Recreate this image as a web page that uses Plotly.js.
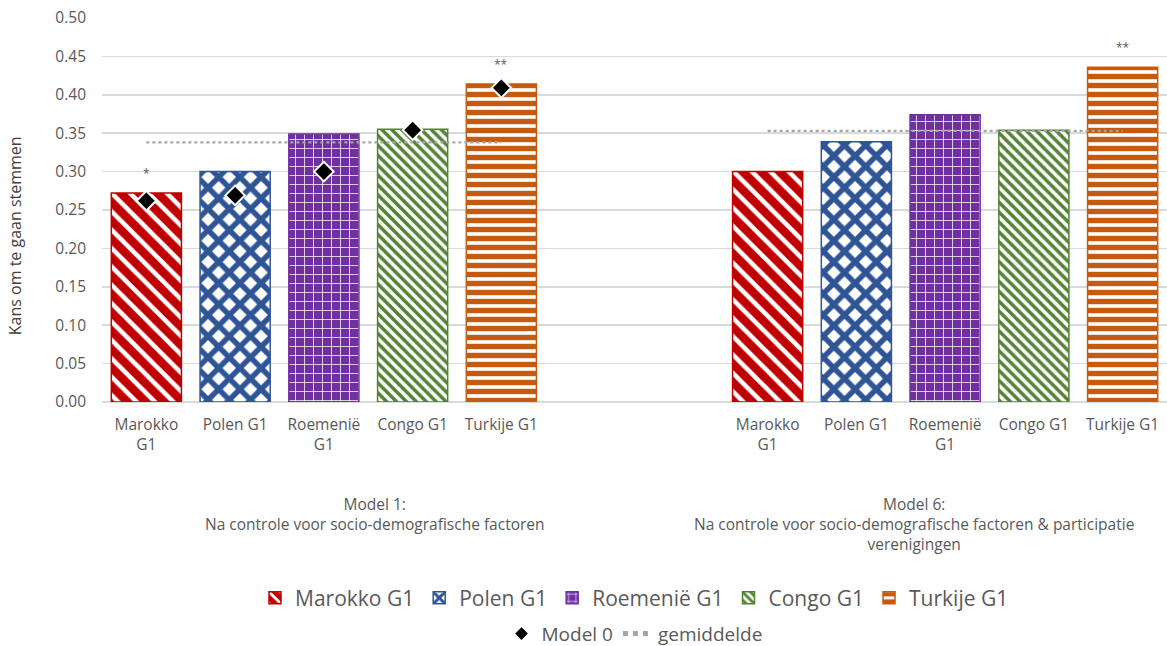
<!DOCTYPE html>
<html>
<head>
<meta charset="utf-8">
<script src="https://cdn.plot.ly/plotly-3.0.1.min.js"></script>
<style>html,body{margin:0;padding:0;background:#fff}#chart{width:1167px;height:646px}</style>
</head>
<body>
<div id="chart"></div>
<script>
// ---- data ----
const countries = ["Marokko G1", "Polen G1", "Roemenië G1", "Congo G1", "Turkije G1"];
const tickLabels = ["Marokko<br>G1", "Polen G1", "Roemenië<br>G1", "Congo G1", "Turkije G1"];
const model1 = [0.272, 0.300, 0.349, 0.355, 0.414];
const model6 = [0.300, 0.339, 0.374, 0.354, 0.436];
const model0 = [0.262, 0.269, 0.300, 0.354, 0.409];
const gemiddelde = [0.338, 0.353];
const sig1 = ["*", "", "", "", "**"];
const sig6 = ["", "", "", "", "**"];
const groupLabels = ["Model 1:<br>Na controle voor socio-demografische factoren",
                     "Model 6:<br>Na controle voor socio-demografische factoren & participatie<br>verenigingen"];

// ---- styling ----
const FONT = "'Open Sans', sans-serif";
const GREY = "#595959";
const styles = [
  {color: "#c00000", pattern: {shape: "\\", bgcolor: "#c00000", fgcolor: "#ffffff", size: 13, solidity: 0.35, fillmode: "replace"}},
  {color: "#2f5597", pattern: {shape: "x", bgcolor: "#ffffff", fgcolor: "#2f5597", size: 15, solidity: 0.6, fillmode: "replace"}},
  {color: "#7030a0", pattern: {shape: "+", bgcolor: "#7030a0", fgcolor: "#ffffff", size: 9, solidity: 0.16, fillmode: "replace"}},
  {color: "#548235", pattern: {shape: "\\", bgcolor: "#ffffff", fgcolor: "#548235", size: 7, solidity: 0.5, fillmode: "replace"}},
  {color: "#c55a11", pattern: {shape: "-", bgcolor: "#ffffff", fgcolor: "#c55a11", size: 9, solidity: 0.6, fillmode: "replace"}}
];
const offset2 = 7; // slot index where second group starts

const traces = [];
countries.forEach((c, i) => {
  traces.push({
    type: "bar", name: c, x: [i, i + offset2], y: [model1[i], model6[i]],
    width: 0.79,
    marker: {color: styles[i].color, pattern: styles[i].pattern, line: {color: styles[i].color, width: 1.5}},
    legend: "legend", hoverinfo: "y"
  });
});
traces.push({
  type: "scatter", mode: "markers", name: "Model 0",
  x: countries.map((c, i) => i), y: model0,
  marker: {symbol: "diamond", size: 15, color: "#000000", line: {color: "#ffffff", width: 2}},
  legend: "legend2"
});
traces.push({
  type: "scatter", mode: "lines", name: "gemiddelde",
  x: [0, countries.length - 1, null, offset2, offset2 + countries.length - 1],
  y: [gemiddelde[0], gemiddelde[0], null, gemiddelde[1], gemiddelde[1]],
  line: {color: "#a6a6a6", width: 2.2, dash: "dot"},
  connectgaps: false, legend: "legend2"
});

const starFont = {family: FONT, size: 12, color: GREY};
const annotations = [];
sig1.forEach((s, i) => { if (s) annotations.push({x: i, y: model1[i], text: s, showarrow: false, yshift: 20, font: starFont}); });
sig6.forEach((s, i) => { if (s) annotations.push({x: i + offset2, y: model6[i], text: s, showarrow: false, yshift: 20, font: starFont}); });
const grpFont = {family: FONT, size: 15.5, color: GREY};
annotations.push({x: 2.58, y: -0.232, yref: "paper", text: groupLabels[0], showarrow: false, yanchor: "top", align: "center", font: grpFont});
annotations.push({x: 8.65, y: -0.232, yref: "paper", text: groupLabels[1], showarrow: false, yanchor: "top", align: "center", font: grpFont});
annotations.push({xref: "paper", x: -0.094, y: 0.217, yref: "y", text: "Kans om te gaan stemmen", textangle: -90, showarrow: false, font: {family: FONT, size: 16, color: "#404040"}});

const tickvals = [], ticktext = [];
countries.forEach((c, i) => { tickvals.push(i); ticktext.push(tickLabels[i]); });
countries.forEach((c, i) => { tickvals.push(i + offset2); ticktext.push(tickLabels[i]); });

const layout = {
  width: 1167, height: 646,
  margin: {l: 102, r: 0, t: 18, b: 244, autoexpand: false},
  paper_bgcolor: "#ffffff", plot_bgcolor: "#ffffff",
  font: {family: FONT, color: GREY},
  barmode: "overlay",
  showlegend: true,
  xaxis: {range: [-0.5, 11.5], tickvals: tickvals, ticktext: ticktext, showgrid: false, zeroline: false,
          showline: false, ticks: "", tickfont: {family: FONT, size: 15.5, color: GREY}, tickangle: 0,
          ticklabelstandoff: 11, automargin: false, fixedrange: true},
  yaxis: {range: [0, 0.5], dtick: 0.05, tickformat: ".2f", showgrid: true, gridcolor: "#d9d9d9", gridwidth: 1.5,
          zeroline: true, zerolinecolor: "#d9d9d9", zerolinewidth: 1.5, showline: false, ticks: "",
          tickfont: {family: FONT, size: 15.5, color: GREY}, ticklabelstandoff: 15, automargin: false, fixedrange: true},
  legend: {orientation: "h", x: 0.5, xanchor: "center", yref: "container", y: 0.074, yanchor: "middle", itemwidth: 30,
           font: {family: FONT, size: 21, color: GREY}, traceorder: "normal"},
  legend2: {orientation: "h", x: 0.5, xanchor: "center", yref: "container", y: 0.019, yanchor: "middle", itemwidth: 30,
           itemsizing: "constant",
           font: {family: FONT, size: 19, color: GREY}, traceorder: "normal"},
  annotations: annotations
};

Plotly.newPlot("chart", traces, layout, {displayModeBar: false, staticPlot: true});
</script>
</body>
</html>
